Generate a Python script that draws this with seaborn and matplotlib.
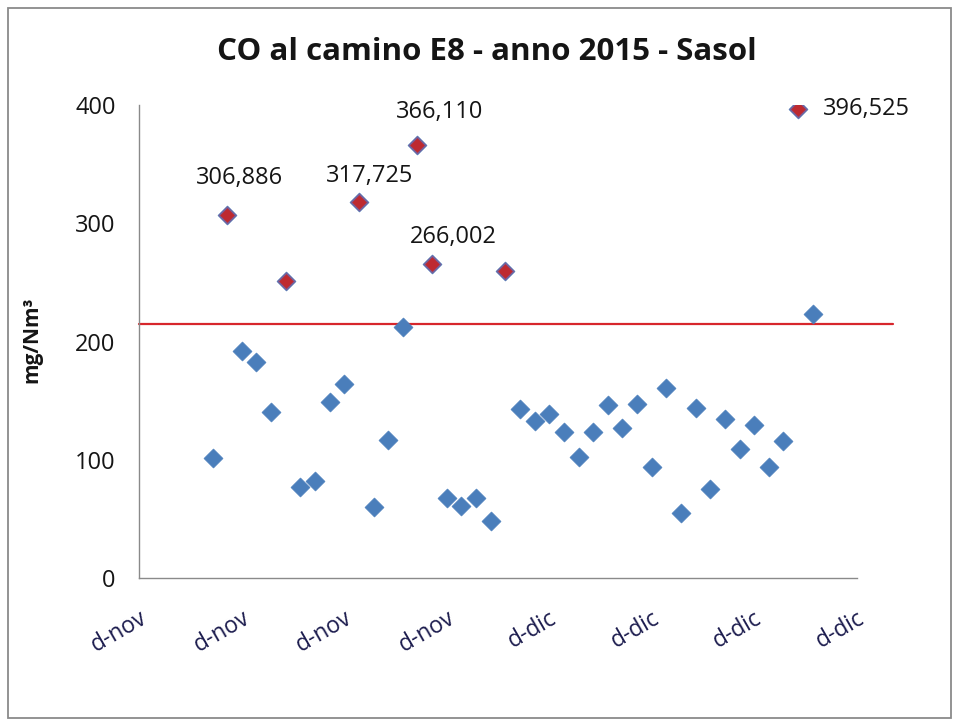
import matplotlib
matplotlib.use("Agg")
import matplotlib.pyplot as plt
import seaborn as sns
import pandas as pd
from matplotlib.patches import Rectangle

# Daily CO readings at stack E8 (day index counted from the first axis tick)
days = list(range(5, 47))
co_values = [
    101.5, 306.886, 192.5, 182.7, 140.4, 251.2, 77.0, 82.5, 148.8, 164.3,
    317.725, 60.0, 117.0, 212.2, 366.110, 266.002, 68.2, 61.4, 68.2, 48.7,
    260.1, 143.2, 133.0, 138.9, 124.0, 102.8, 124.0, 146.6, 126.8, 147.1,
    93.9, 161.2, 55.0, 143.8, 75.3, 134.7, 109.1, 129.6, 94.4, 116.4,
    396.525, 223.3,
]
# days drawn as red diamonds, and the ones carrying a value label
exceed_days = [6, 10, 15, 19, 20, 25, 45]
labelled_days = [6, 15, 19, 20, 45]
tick_days = [0, 7, 14, 21, 28, 35, 42, 49]
tick_labels = ["d-nov", "d-nov", "d-nov", "d-nov", "d-dic", "d-dic", "d-dic", "d-dic"]
y_ticks = [0, 100, 200, 300, 400]
LIMIT = 215

BLUE = "#4A7EBB"
RED = "#BE2A30"
LINE_RED = "#D7262C"
AXIS_GRAY = "#8A8A8A"
TEXT = "#151515"
NAVY = "#1C1C4E"

sns.set_theme(style="white")
plt.rcParams["font.family"] = ["Open Sans", "DejaVu Sans"]

df = pd.DataFrame({"day": days, "co": co_values})
df["exceed"] = df["day"].isin(exceed_days)

fig = plt.figure(figsize=(9.6, 7.24), dpi=100)
ax = fig.add_axes([0.1451, 0.2012, 0.7473, 0.6538])

sns.scatterplot(data=df, x="day", y="co", marker="D", s=95, color=BLUE,
                edgecolor=BLUE, linewidth=0.4, ax=ax, zorder=3, legend=False)
sns.scatterplot(data=df[df["exceed"]], x="day", y="co", marker="D", s=72,
                color=RED, edgecolor="#76609C", linewidth=1.0, ax=ax,
                zorder=4, legend=False)

# limit line runs a bit past the end of the x axis, as in the original
ax.axhline(LIMIT, xmin=0, xmax=1.05, color=LINE_RED, lw=1.6, clip_on=False, zorder=2)

# value labels (offsets in points)
label_offsets = {6: (9, 27, "center"), 15: (8, 19, "center"), 19: (16, 24, "center"),
                 20: (15, 19, "center"), 45: (18, 0, "left")}
for d in labelled_days:
    v = df.loc[df["day"] == d, "co"].iloc[0]
    dx, dy, ha = label_offsets[d]
    ax.annotate(f"{v:.3f}".replace(".", ","), (d, v), xytext=(dx, dy),
                textcoords="offset points", ha=ha, va="center",
                fontsize=17, color=TEXT, zorder=5)

ax.set_xlim(tick_days[0], tick_days[-1])
ax.set_ylim(y_ticks[0], y_ticks[-1])
ax.set_xticks(tick_days)
ax.set_xticklabels(tick_labels, rotation=30, ha="right", va="top",
                   rotation_mode="anchor", fontsize=16.5, color=NAVY)
ax.set_yticks(y_ticks)
ax.set_yticklabels([str(t) for t in y_ticks], fontsize=17, color=TEXT)
ax.tick_params(axis="both", direction="out", length=5, width=1, color=AXIS_GRAY)
ax.tick_params(axis="y", pad=12)
ax.tick_params(axis="x", pad=15)

for side in ["top", "right"]:
    ax.spines[side].set_visible(False)
for side in ["left", "bottom"]:
    ax.spines[side].set_color(AXIS_GRAY)
    ax.spines[side].set_linewidth(1.0)

ax.set_xlabel("")
ax.set_ylabel("mg/Nm³", fontsize=15, fontweight="bold", color=TEXT)
ax.yaxis.set_label_coords(-0.1356, 0.5035)

fig.text(0.507, 0.928, "CO al camino E8 - anno 2015 - Sasol", ha="center",
         va="center", fontsize=22.5, fontweight="bold", color=TEXT)

fig.patches.append(Rectangle((8 / 960, 1 - 718 / 724), 943 / 960, 710 / 724,
                             transform=fig.transFigure, fill=False,
                             edgecolor=AXIS_GRAY, lw=1.3))

fig.savefig("out.png", dpi=100, facecolor="white")
